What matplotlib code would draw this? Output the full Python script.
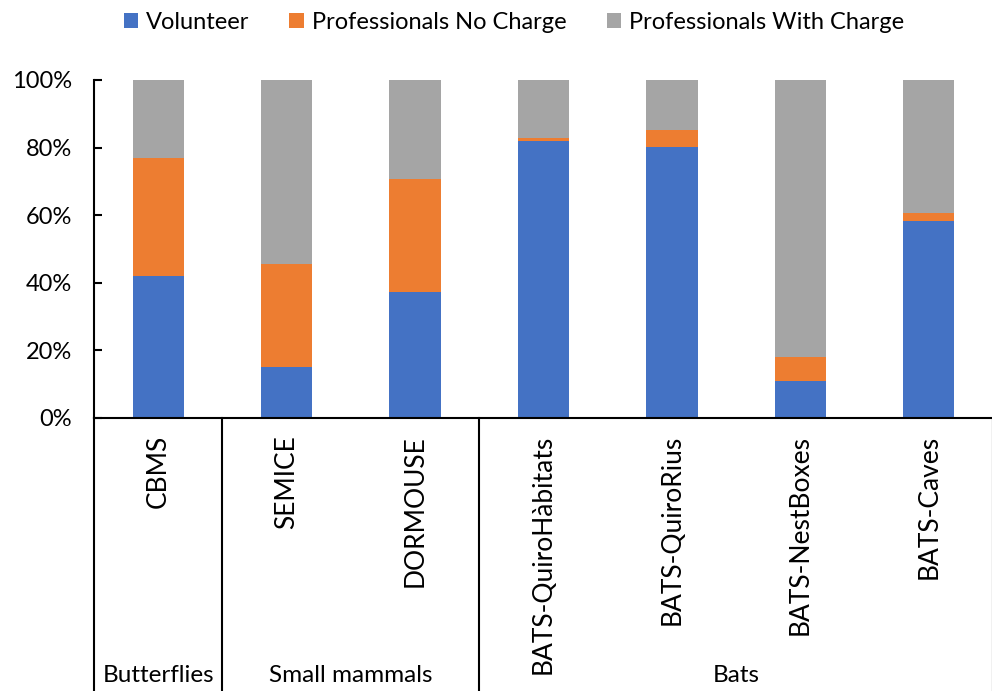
import matplotlib.pyplot as plt
import matplotlib.transforms as mtransforms
import numpy as np

# data (percent)
programs = ["CBMS", "SEMICE", "DORMOUSE", "BATS-QuiroHàbitats",
            "BATS-QuiroRius", "BATS-NestBoxes", "BATS-Caves"]
volunteer = [42.0, 15.2, 37.2, 82.0, 80.3, 11.0, 58.3]
prof_no_charge = [35.0, 30.5, 33.4, 0.7, 4.8, 7.0, 2.4]
prof_with_charge = [23.0, 54.3, 29.4, 17.3, 14.9, 82.0, 39.3]

groups = ["Butterflies", "Small mammals", "Bats"]
group_sizes = [1, 2, 4]

series_names = ["Volunteer", "Professionals No Charge", "Professionals With Charge"]
colors = ["#4472C4", "#ED7D31", "#A5A5A5"]

plt.rcParams['font.family'] = ['Lato', 'DejaVu Sans']

fig = plt.figure(figsize=(9.92, 6.91), dpi=100)
ax = fig.add_axes([94 / 992, 273 / 691, 899 / 992, 338 / 691])

x = np.arange(len(programs))
bottom = np.zeros(len(programs))
for vals, name, col in zip([volunteer, prof_no_charge, prof_with_charge], series_names, colors):
    ax.bar(x, vals, width=0.4, bottom=bottom, color=col, label=name, zorder=2)
    bottom += np.array(vals)

ax.set_xlim(-0.5, len(programs) - 0.5)
ax.set_ylim(0, 100)
ax.set_yticks(np.arange(0, 101, 20))
ax.set_yticklabels([f"{v}%" for v in range(0, 101, 20)], fontsize=17)
ax.tick_params(axis='y', direction='in', length=6, width=1.5, pad=16, colors='black')
ax.tick_params(axis='x', bottom=False, labelbottom=False)

for s in ['top', 'right']:
    ax.spines[s].set_visible(False)
for s in ['left', 'bottom']:
    ax.spines[s].set_linewidth(1.5)

# category labels under the axis
trans = mtransforms.blended_transform_factory(ax.transData, ax.transAxes)
for xi, lab in zip(x, programs):
    ax.text(xi, -0.05, lab, rotation=90, ha='center', va='top', fontsize=19,
            transform=trans)

# group separators and group labels
ylow = -273 / 338
edges = np.concatenate([[0], np.cumsum(group_sizes)]) - 0.5
for e in edges[:-1]:
    ax.plot([e, e], [0, ylow], color='black', lw=1.5, transform=trans, clip_on=False)
ax.plot([edges[-1] - 0.01, edges[-1] - 0.01], [0, ylow], color='#bbbbbb', lw=1,
        transform=trans, clip_on=False)
for i, g in enumerate(groups):
    ax.text((edges[i] + edges[i + 1]) / 2, ylow + 0.045, g, ha='center', va='center',
            fontsize=17.5, transform=trans)

handles, labels = ax.get_legend_handles_labels()
fig.legend(handles, labels, loc='center', bbox_to_anchor=(0.518, 0.967), ncol=3,
           frameon=False, fontsize=17, handlelength=0.6, handleheight=0.6,
           handletextpad=0.35, columnspacing=1.7)

fig.savefig("out.png", dpi=100)
